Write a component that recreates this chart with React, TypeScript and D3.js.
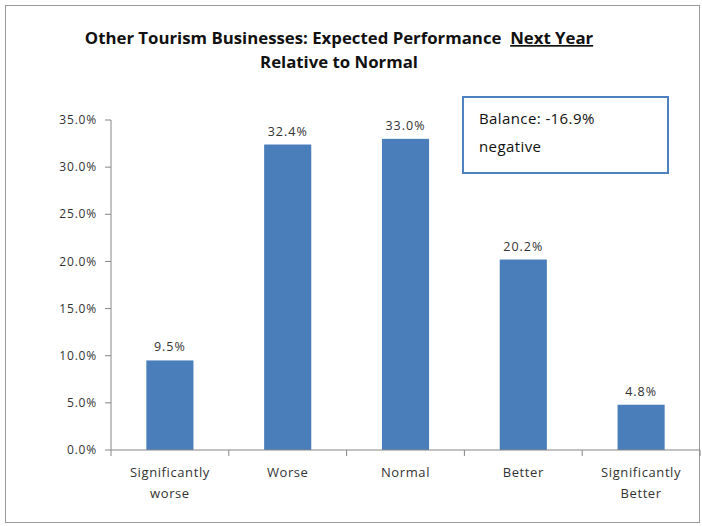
import React from "react";
import * as d3 from "d3";

const categories: string[][] = [
  ["Significantly", "worse"],
  ["Worse"],
  ["Normal"],
  ["Better"],
  ["Significantly", "Better"],
];
const values: number[] = [9.5, 32.4, 33.0, 20.2, 4.8];
const yTicks: number[] = [0, 5, 10, 15, 20, 25, 30, 35];
const titleLine1 = "Other Tourism Businesses: Expected Performance  ";
const titleUnderlined = "Next Year";
const titleLine2 = "Relative to Normal";
const balanceLines: string[] = ["Balance: -16.9%", "negative"];

const W = 702;
const H = 526;
const FONT = "'Open Sans', Lato, 'Liberation Sans', sans-serif";

export default function App() {
  const plot = { left: 111, right: 700, top: 120, bottom: 450 };
  const x = d3
    .scaleBand<number>()
    .domain(d3.range(values.length))
    .range([plot.left, plot.right])
    .paddingInner(0.6)
    .paddingOuter(0.3);
  const xOuter = d3
    .scaleBand<number>()
    .domain(d3.range(values.length))
    .range([plot.left, plot.right]);
  const y = d3.scaleLinear().domain([0, 35]).range([plot.bottom, plot.top]);
  const axisColor = "#868686";
  const textColor = "#333";
  const barColor = "#4a7ebb";

  return (
    <svg
      width={W}
      height={H}
      style={{ position: "absolute", left: 0, top: 0, background: "#fff" }}
      fontFamily={FONT}
    >
      <rect x={5.5} y={5.5} width={694} height={517} fill="#fff" stroke="#9a9a9a" strokeWidth={1} />
      <text x={339} y={44} textAnchor="middle" fontSize={16.8} fontWeight="bold" fill="#111" style={{ whiteSpace: "pre" }}>
        {titleLine1}
        <tspan textDecoration="underline">{titleUnderlined}</tspan>
      </text>
      <text x={339} y={68} textAnchor="middle" fontSize={16.8} fontWeight="bold" fill="#111">
        {titleLine2}
      </text>

      {/* y axis */}
      <line x1={plot.left} x2={plot.left} y1={plot.top} y2={plot.bottom} stroke={axisColor} />
      {yTicks.map((t) => (
        <g key={t}>
          <line x1={plot.left - 6} x2={plot.left} y1={y(t)} y2={y(t)} stroke={axisColor} />
          <text
            x={plot.left - 14}
            y={y(t)}
            dy="0.35em"
            textAnchor="end"
            fontSize={12}
            letterSpacing={0.8}
            fill={textColor}
          >
            {t.toFixed(1) + "%"}
          </text>
        </g>
      ))}

      {/* bars */}
      {values.map((v, i) => (
        <g key={i}>
          <rect x={x(i)} y={y(v)} width={x.bandwidth()} height={y(0) - y(v)} fill={barColor} />
          <text
            x={(x(i) as number) + x.bandwidth() / 2}
            y={y(v) - 9}
            textAnchor="middle"
            fontSize={12.5}
            letterSpacing={1}
            fill={textColor}
          >
            {v.toFixed(1) + "%"}
          </text>
        </g>
      ))}

      {/* x axis */}
      <line x1={plot.left} x2={plot.right} y1={plot.bottom} y2={plot.bottom} stroke={axisColor} />
      {d3.range(values.length + 1).map((i) => {
        const tx = i < values.length ? (xOuter(i) as number) : plot.right;
        return <line key={i} x1={tx} x2={tx} y1={plot.bottom} y2={plot.bottom + 6} stroke={axisColor} />;
      })}
      {categories.map((lines, i) => (
        <text
          key={i}
          x={(xOuter(i) as number) + xOuter.bandwidth() / 2}
          y={477}
          textAnchor="middle"
          fontSize={13}
          letterSpacing={0.6}
          fill={textColor}
        >
          {lines.map((l, j) => (
            <tspan key={j} x={(xOuter(i) as number) + xOuter.bandwidth() / 2} dy={j === 0 ? 0 : 21}>
              {l}
            </tspan>
          ))}
        </text>
      ))}

      {/* balance box */}
      <rect x={463} y={97} width={205} height={76} fill="#fff" stroke="#4f81bd" strokeWidth={2} />
      {balanceLines.map((l, j) => (
        <text key={j} x={479} y={124 + j * 28} fontSize={15} letterSpacing={0.4} fill="#111">
          {l}
        </text>
      ))}
    </svg>
  );
}
